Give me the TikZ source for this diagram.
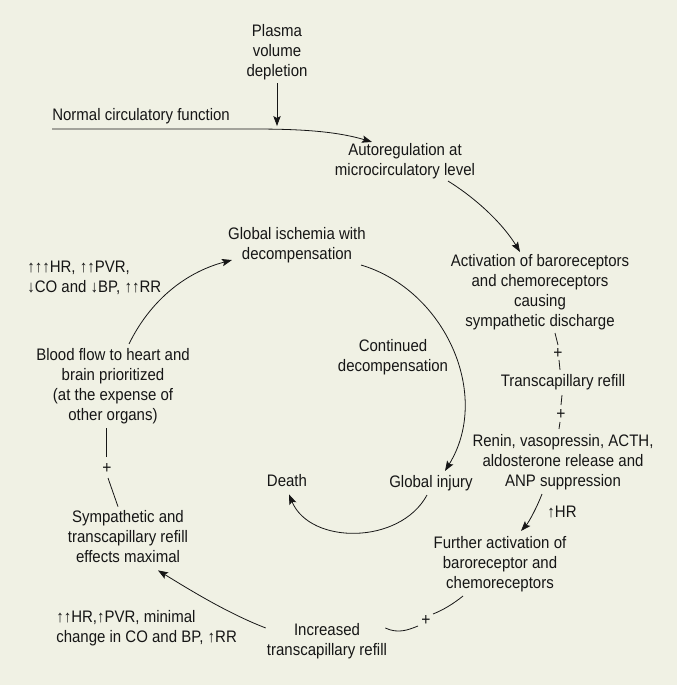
\documentclass[tikz,border=0pt]{standalone}
\usepackage{fontspec}
\setmainfont[FakeStretch=0.9]{Liberation Sans}
\usetikzlibrary{arrows.meta,calc}
\definecolor{bg}{HTML}{F0F1E4}
\definecolor{ink}{HTML}{161616}
\begin{document}
\begin{tikzpicture}[x=0.75pt,y=-0.75pt,
  txt/.style={align=center,inner sep=0pt,text=ink,font=\fontsize{12.5pt}{15pt}\selectfont},
  lbl/.style={txt,align=left},
  conn/.style={draw=ink,line width=0.6pt},
  arr/.style={conn,-{Stealth[length=7.5pt,width=5.5pt,inset=1.5pt]}},
  plus/.style={inner sep=0pt,text=ink,font=\fontsize{13pt}{14pt}\selectfont}]
\fill[bg] (0,0) rectangle (677,685);
\useasboundingbox (0,0) rectangle (677,685);

% nodes
\node[txt] (plasma) at (277,52) {Plasma\\volume\\depletion};
\node[txt,anchor=west] (normal) at (52,116) {Normal circulatory function};
\node[txt] (autoreg) at (405,161) {Autoregulation at\\microcirculatory level};
\node[txt] (activ) at (540,292) {Activation of baroreceptors\\and chemoreceptors\\causing\\sympathetic discharge};
\node[txt] (trans) at (563,382) {Transcapillary refill};
\node[txt] (renin) at (563,462) {Renin, vasopressin, ACTH,\\aldosterone release and\\ANP suppression};
\node[txt] (hr3) at (562,512) {↑HR};
\node[txt] (further) at (500,564) {Further activation of\\baroreceptor and\\chemoreceptors};
\node[txt] (increased) at (327,641) {Increased\\transcapillary refill};
\node[txt] (symp) at (128,537) {Sympathetic and\\transcapillary refill\\effects maximal};
\node[lbl,anchor=west] (hr2) at (56,628) {↑↑HR,↑PVR, minimal\\change in CO and BP, ↑RR};
\node[txt] (blood) at (113,386) {Blood flow to heart and\\brain prioritized\\(at the expense of\\other organs)};
\node[lbl,anchor=west] (hr1) at (27,278) {↑↑↑HR, ↑↑PVR,\\↓CO and ↓BP, ↑↑RR};
\node[txt] (ischemia) at (297,245) {Global ischemia with\\decompensation};
\node[txt] (continued) at (393,357) {Continued\\decompensation};
\node[txt] (injury) at (431,483) {Global injury};
\node[txt] (death) at (287,481) {Death};

% plus signs
\node[plus] (p1) at (558,353) {+};
\node[plus] (p2) at (561,414) {+};
\node[plus] (p3) at (426,620) {+};
\node[plus] (p4) at (107,468) {+};

% junction on normal line
\coordinate (n0) at ($(normal.south west)+(0,5)$);
\coordinate (j) at ($(plasma.south)+(0,46)$);

% connectors
\draw[arr] ($(plasma.south)+(0,3)$) -- (j);
\draw[arr] (n0) -- ($(n0)+(205,0)$) .. controls ($(n0)+(260,0)$) and ($(n0)+(290,4)$) .. ($(autoreg.north)+(-33,-1)$);
\draw[arr] ($(autoreg.south)+(43,2)$) .. controls ($(autoreg.south)+(72,20)$) and ($(autoreg.south)+(98,45)$) .. ($(activ.north)+(-20,-2)$);
\draw[conn] ($(activ.south)+(15,3)$) -- ($(p1)+(0,-8)$);
\draw[conn] ($(p1)+(1,7)$) -- ($(trans.north)+(-3,-4)$);
\draw[conn] ($(trans.south)+(-1,5)$) -- ($(p2)+(0,-9)$);
\draw[conn] ($(p2)+(-1,8)$) -- ($(renin.north)+(-4,-5)$);
\draw[arr] ($(renin.south)+(-21,4)$) .. controls ($(renin.south)+(-26,17)$) and ($(renin.south)+(-34,32)$) .. ($(further.north)+(21,-5)$);
\draw[conn] ($(further.south)+(-37,4)$) .. controls ($(further.south)+(-47,12)$) and ($(further.south)+(-57,18)$) .. ($(p3)+(7,-6)$);
\draw[conn] ($(p3)+(-8,6)$) .. controls ($(p3)+(-18,10)$) and ($(p3)+(-28,14)$) .. ($(increased.north east)+(-2,5)$);
\draw[arr] ($(increased.north west)+(-1,5)$) .. controls ($(increased.north west)+(-40,-10)$) and ($(increased.north west)+(-80,-35)$) .. ($(symp.south)+(30,7)$);
\draw[conn] ($(symp.north)+(-10,-4)$) -- ($(p4)+(1,10)$);
\draw[conn] ($(p4)+(-1,-11)$) -- ($(blood.south)+(-7,4)$);
\draw[arr] ($(blood.north)+(16,-4)$) .. controls ($(blood.north)+(36,-45)$) and ($(blood.north)+(70,-75)$) .. ($(ischemia.south west)+(4,-3)$);
\draw[arr] ($(ischemia.south east)+(-5,2)$) .. controls (445,290) and (492,395) .. ($(injury.north)+(14,-4)$);
\draw[arr] ($(injury.south)+(-4,4)$) .. controls (400,545) and (310,545) .. ($(death.south)+(2,7)$);
\end{tikzpicture}
\end{document}
